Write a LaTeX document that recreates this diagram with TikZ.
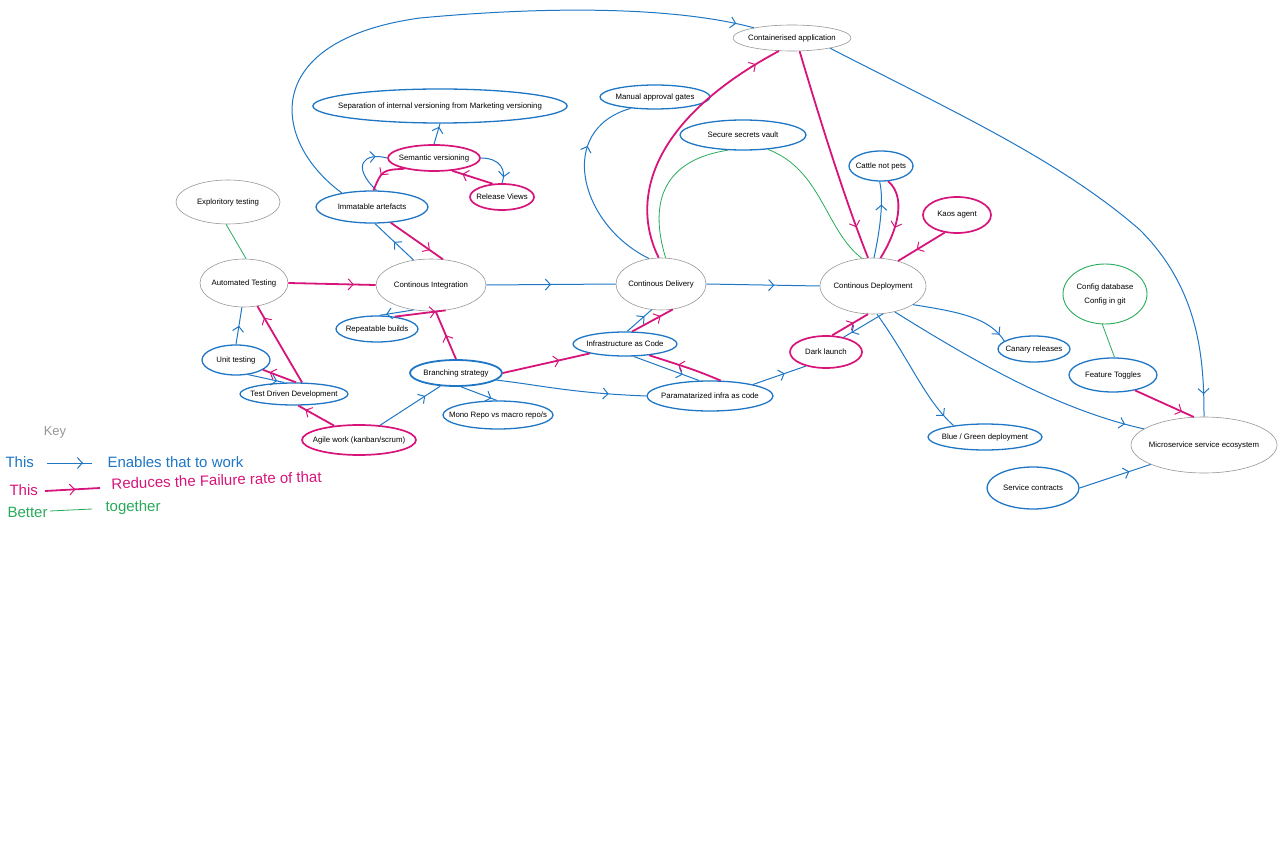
\documentclass[tikz,border=0pt]{standalone}
\usepackage{fontspec}
\setmainfont{Liberation Sans}
\usetikzlibrary{shapes.geometric,arrows.meta,decorations.markings}
\definecolor{keyblue}{RGB}{30,118,196}
\definecolor{keypink}{RGB}{214,20,122}
\definecolor{keygreen}{RGB}{40,170,90}
\definecolor{keygrey}{RGB}{150,150,150}
\begin{document}
\begin{tikzpicture}[x=1pt,y=-1pt,
    blob/.style={ellipse, inner xsep=-12pt, inner ysep=0pt, align=center, font=\fontsize{7.8}{9}\selectfont},
    enabler/.style={blob, draw=keyblue, line width=1.3pt},
    reducer/.style={blob, draw=keypink, line width=1.7pt},
    plain/.style={blob, draw=keygrey, line width=0.6pt},
    partner/.style={blob, draw=keygreen, line width=0.9pt},
    barb/.style={postaction={decorate}, decoration={markings, mark=at position #1 with {\arrow{Straight Barb[length=5pt,width=11pt,line width=1pt]}}}},
    enables/.style={keyblue, line width=1pt, barb=#1}, enables/.default=0.6,
    reduces/.style={keypink, line width=1.8pt, barb=#1}, reduces/.default=0.6,
    together/.style={keygreen, line width=0.8pt},
    keytext/.style={font=\fontsize{15}{17}\selectfont, anchor=west}]
    \useasboundingbox (0,0) rectangle (1280,853);

    \node[plain, minimum width=118pt, minimum height=26pt] (container) at (792,38) {Containerised application};
    \node[enabler, minimum width=254pt, minimum height=34pt] (separation) at (440,106) {Separation of internal versioning from Marketing versioning};
    \node[enabler, minimum width=110pt, minimum height=24pt] (manual) at (655,97) {Manual approval gates};
    \node[reducer, minimum width=92pt, minimum height=26pt] (semantic) at (434,158) {Semantic versioning};
    \node[enabler, minimum width=126pt, minimum height=30pt] (secrets) at (743,135) {Secure secrets vault};
    \node[enabler, minimum width=64pt, minimum height=30pt] (cattle) at (881,166) {Cattle not pets};
    \node[reducer, minimum width=64pt, minimum height=26pt] (release) at (502,197) {Release Views};
    \node[plain, minimum width=104pt, minimum height=44pt] (explor) at (228,202) {Exploritory testing};
    \node[enabler, minimum width=112pt, minimum height=32pt] (immatable) at (372,207) {Immatable artefacts};
    \node[reducer, minimum width=68pt, minimum height=36pt] (kaos) at (957,215) {Kaos agent};
    \node[plain, minimum width=88pt, minimum height=48pt] (autotest) at (244,283) {Automated Testing};
    \node[plain, minimum width=110pt, minimum height=52pt] (ci) at (431,285) {Continous Integration};
    \node[plain, minimum width=90pt, minimum height=52pt] (cdel) at (661,284) {Continous Delivery};
    \node[plain, minimum width=106pt, minimum height=56pt] (cdep) at (873,286) {Continous Deployment};
    \node[partner, minimum width=84pt, minimum height=60pt] (config) at (1105,294) {Config database\\[5pt]Config in git};
    \node[enabler, minimum width=82pt, minimum height=26pt] (repeat) at (377,329) {Repeatable builds};
    \node[enabler, minimum width=104pt, minimum height=24pt] (iac) at (625,344) {Infrastructure as Code};
    \node[enabler, minimum width=72pt, minimum height=26pt] (canary) at (1034,349) {Canary releases};
    \node[reducer, minimum width=72pt, minimum height=32pt] (dark) at (826,352) {Dark launch};
    \node[enabler, minimum width=68pt, minimum height=30pt] (unit) at (236,360) {Unit testing};
    \node[enabler, minimum width=88pt, minimum height=34pt] (toggles) at (1113,375) {Feature Toggles};
    \node[enabler, line width=1.8pt, minimum width=92pt, minimum height=26pt] (branch) at (456,373) {Branching strategy};
    \node[enabler, minimum width=108pt, minimum height=22pt] (tdd) at (294,394) {Test Driven Development};
    \node[enabler, minimum width=126pt, minimum height=30pt] (param) at (710,396) {Paramatarized infra as code};
    \node[enabler, minimum width=110pt, minimum height=28pt] (mono) at (498,415) {Mono Repo vs macro repo/s};
    \node[enabler, minimum width=114pt, minimum height=26pt] (bluegreen) at (985,437) {Blue / Green deployment};
    \node[reducer, minimum width=114pt, minimum height=30pt] (agile) at (359,440) {Agile work (kanban/scrum)};
    \node[plain, minimum width=146pt, minimum height=56pt] (micro) at (1204,445) {Microservice service ecosystem};
    \node[enabler, minimum width=92pt, minimum height=42pt] (contracts) at (1033,488) {Service contracts};

    \draw[enables=0.97] (immatable.155) .. controls (270,140) and (260,40) .. (420,18) .. controls (560,5) and (680,8) .. (container.165);
    \draw[enables=0.8] (immatable.75) .. controls (350,165) and (365,152) .. (semantic.west);
    \draw[enables=0.85] (semantic.north) -- (separation.south);
    \draw[enables=0.85] (semantic.east) .. controls (500,158) and (507,170) .. (release.north);
    \draw[enables=0.5] (ci.125) -- (immatable.-80);
    \draw[enables=0.5] (unit.north) -- (autotest.-95);
    \draw[enables=0.8] (unit.-50) -- (tdd.130);
    \draw[enables=0.8] (ci.235) -- (repeat.80);
    \draw[enables=0.75] (agile.35) -- (branch.220);
    \draw[enables=0.5] (ci.east) -- (cdel.west);
    \draw[enables=0.75] (branch.-10) .. controls (540,385) and (570,393) .. (param.west);
    \draw[enables=0.85] (branch.-70) -- (mono.95);
    \draw[enables=0.7] (iac.80) -- (cdel.250);
    \draw[enables=0.75] (iac.-55) -- (param.125);
    \draw[enables=0.6] (param.15) -- (dark.215);
    \draw[enables=0.6] (cdel.east) -- (cdep.west);
    \draw[enables=0.7] (cdel.115) .. controls (580,225) and (555,130) .. (manual.205);
    \draw[enables=0.8] (cdep.-70) -- (dark.40);
    \draw[enables=0.7] (cdep.88) .. controls (880,230) and (884,200) .. (cattle.-95);
    \draw[enables=0.96] (container.-15) .. controls (950,110) and (1060,160) .. (1140,230) .. controls (1200,290) and (1204,360) .. (micro.north);
    \draw[enables=0.92] (cdep.-25) .. controls (960,312) and (990,318) .. (canary.165);
    \draw[enables=0.9] (cdep.-82) .. controls (910,360) and (925,400) .. (bluegreen.160);
    \draw[enables=0.93] (cdep.-50) .. controls (980,365) and (1060,410) .. (micro.165);
    \draw[enables=0.7] (contracts.east) -- (micro.200);

    \draw[reduces=0.75] (immatable.-40) -- (ci.65);
    \draw[reduces=0.75] (autotest.east) -- (ci.west);
    \draw[reduces=0.6] (semantic.200) .. controls (382,170) .. (immatable.85);
    \draw[reduces=0.75] (release.125) -- (semantic.-35);
    \draw[reduces=0.85] (tdd.55) -- (autotest.-60);
    \draw[reduces=0.8] (tdd.80) -- (unit.-20);
    \draw[reduces=0.8] (agile.150) -- (tdd.-70);
    \draw[reduces=0.5] (branch.north) -- (ci.-80);
    \draw[reduces=0.8] (repeat.35) -- (ci.-60);
    \draw[reduces=0.65] (branch.east) -- (iac.195);
    \draw[reduces=0.7] (iac.60) -- (cdel.-65);
    \draw[reduces=0.6] (param.55) .. controls (695,370) .. (iac.-25);
    \draw[reduces=0.9] (cdel.95) .. controls (630,200) and (650,120) .. (container.225);
    \draw[reduces=0.85] (container.-60) .. controls (820,120) and (845,200) .. (cdep.100);
    \draw[reduces=0.6] (cattle.-65) .. controls (910,200) and (892,240) .. (cdep.75);
    \draw[reduces=0.6] (kaos.235) -- (cdep.45);
    \draw[reduces=0.6] (dark.70) -- (cdep.-100);
    \draw[reduces=0.8] (toggles.-35) -- (micro.110);

    \draw[together] (explor.-95) -- (autotest.85);
    \draw[together] (cdel.80) .. controls (648,200) and (665,160) .. (secrets.225);
    \draw[together] (secrets.-30) .. controls (822,170) and (825,230) .. (cdep.112);
    \draw[together] (config.-95) -- (toggles.85);

    \node[font=\fontsize{13}{15}\selectfont, text=keygrey] (keyhead) at (55,432) {Key};
    \node[keytext, text=keyblue] (thisa) at (2,462) {This};
    \coordinate (ka1) at (47,463); \coordinate (ka2) at (92,463);
    \draw[enables=0.8] (ka1) -- (ka2);
    \node[keytext, text=keyblue] (enablestext) at (104,462) {Enables that to work};
    \node[keytext, text=keypink] (thisb) at (6,490) {This};
    \coordinate (kb1) at (45,491); \coordinate (kb2) at (100,488);
    \draw[reduces=0.55] (kb1) -- (kb2);
    \node[keytext, text=keypink, rotate=2] (reducestext) at (108,484) {Reduces the Failure rate of that};
    \node[keytext, text=keygreen] (better) at (4,512) {Better};
    \coordinate (kc1) at (50,511); \coordinate (kc2) at (92,509);
    \draw[together] (kc1) -- (kc2);
    \node[keytext, text=keygreen] (togethertext) at (102,508) {together};
\end{tikzpicture}
\end{document}
